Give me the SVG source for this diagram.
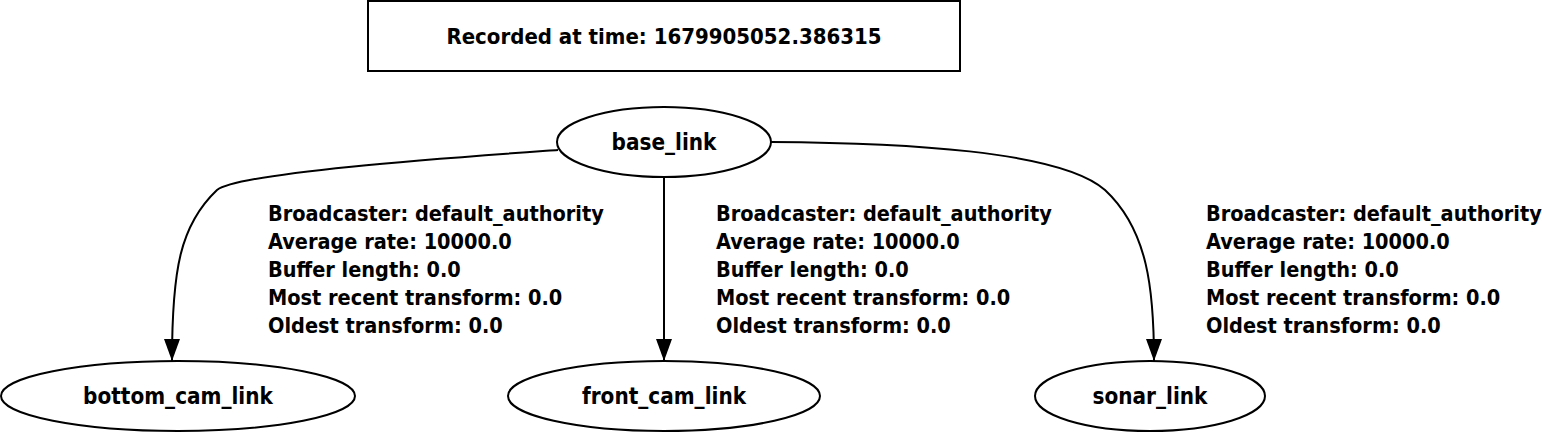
<svg xmlns="http://www.w3.org/2000/svg" width="1542" height="432" viewBox="0 0 1542 432">
<defs>
<style>
.shape{fill:#fff;stroke:#000;stroke-width:2}
.edge{fill:none;stroke:#000;stroke-width:2}
.t{font-family:"DejaVu Sans Condensed","DejaVu Sans",sans-serif;font-weight:bold;font-size:22.3px;fill:#000}
.l{font-size:21.5px}
.c{text-anchor:middle}
</style>
<marker id="arr" markerWidth="22" markerHeight="16" refX="22" refY="8" orient="auto" markerUnits="userSpaceOnUse" viewBox="0 0 22 16">
<path d="M0,0 L22,8 L0,16 Z" fill="#000"/>
</marker>
</defs>
<rect width="1542" height="432" fill="#fff"/>
<g id="header">
<rect class="shape" x="368" y="1" width="592" height="70"/>
<text class="t c" x="664" y="44" style="font-size:22px">Recorded at time: 1679905052.386315</text>
</g>
<g id="connectors">
<path class="edge" d="M558,150 C460,157 240,172 217,190 C180,225 172,270 172,361" marker-end="url(#arr)"/>
<path class="edge" d="M664,177 L664,361" marker-end="url(#arr)"/>
<path class="edge" d="M771,142 C900,143 1060,150 1105,190 C1148,230 1154,290 1154,361" marker-end="url(#arr)"/>
<text class="t l" x="268" y="221">Broadcaster: default_authority</text>
<text class="t l" x="268" y="249">Average rate: 10000.0</text>
<text class="t l" x="268" y="277">Buffer length: 0.0</text>
<text class="t l" x="268" y="305">Most recent transform: 0.0</text>
<text class="t l" x="268" y="333">Oldest transform: 0.0</text>
<text class="t l" x="716" y="221">Broadcaster: default_authority</text>
<text class="t l" x="716" y="249">Average rate: 10000.0</text>
<text class="t l" x="716" y="277">Buffer length: 0.0</text>
<text class="t l" x="716" y="305">Most recent transform: 0.0</text>
<text class="t l" x="716" y="333">Oldest transform: 0.0</text>
<text class="t l" x="1206" y="221">Broadcaster: default_authority</text>
<text class="t l" x="1206" y="249">Average rate: 10000.0</text>
<text class="t l" x="1206" y="277">Buffer length: 0.0</text>
<text class="t l" x="1206" y="305">Most recent transform: 0.0</text>
<text class="t l" x="1206" y="333">Oldest transform: 0.0</text>
</g>
<g id="base_link">
<ellipse class="shape" cx="664" cy="142" rx="107" ry="35"/>
<text class="t c" x="664" y="150">base_link</text>
</g>
<g id="bottom_cam_link">
<ellipse class="shape" cx="178" cy="396" rx="177" ry="35"/>
<text class="t c" x="178" y="404">bottom_cam_link</text>
</g>
<g id="front_cam_link">
<ellipse class="shape" cx="664" cy="396" rx="156" ry="35"/>
<text class="t c" x="664" y="404">front_cam_link</text>
</g>
<g id="sonar_link">
<ellipse class="shape" cx="1150" cy="396" rx="115" ry="35"/>
<text class="t c" x="1150" y="404">sonar_link</text>
</g>
</svg>
